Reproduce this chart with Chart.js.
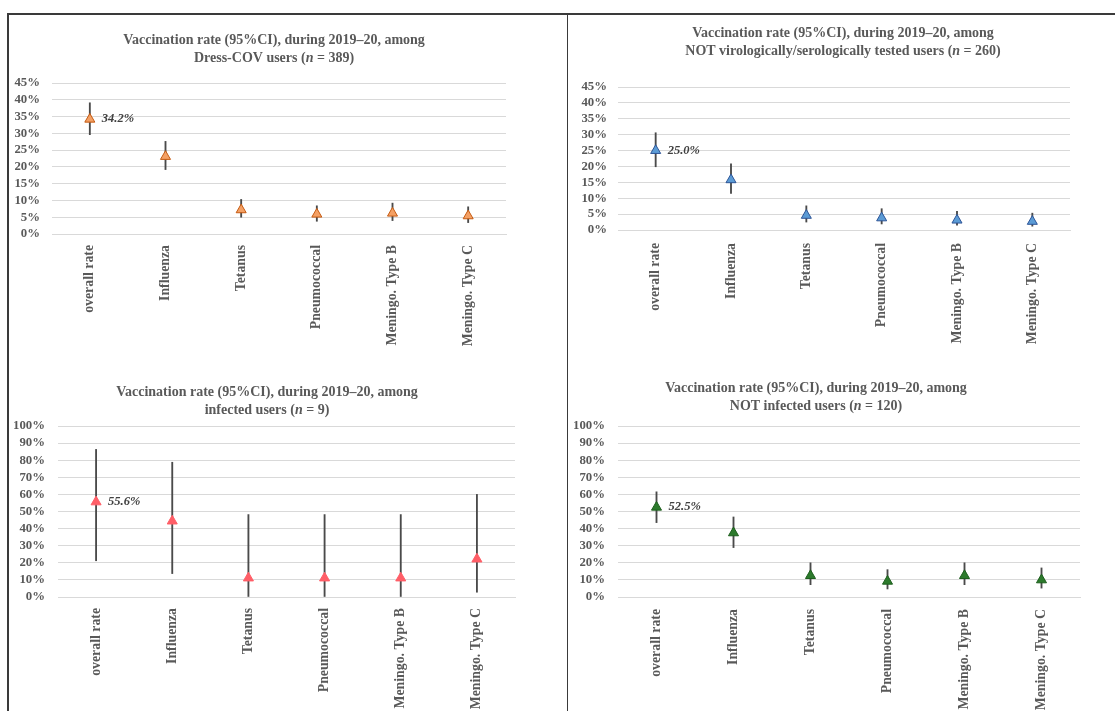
<!DOCTYPE html>
<html>
<head>
<meta charset="utf-8">
<script src="https://cdn.jsdelivr.net/npm/chart.js@4.4.1/dist/chart.umd.min.js"></script>
<style>
  html, body { margin: 0; padding: 0; background: #fff; }
  body { width: 1115px; height: 711px; position: relative; overflow: hidden; }
  .rule { position: absolute; background: #3a3a3a; }
  .panel { position: absolute; }
</style>
</head>
<body>
<div class="rule" style="left:7px;top:13px;width:1108px;height:1.5px"></div>
<div class="rule" style="left:7px;top:13px;width:1.5px;height:698px"></div>
<div class="rule" style="left:566.5px;top:13px;width:1.5px;height:698px"></div>

<div class="panel" style="left:8px;top:14px;width:558px;height:346px"><canvas id="c1"></canvas></div>
<div class="panel" style="left:568px;top:14px;width:547px;height:346px"><canvas id="c2"></canvas></div>
<div class="panel" style="left:8px;top:361px;width:558px;height:350px"><canvas id="c3"></canvas></div>
<div class="panel" style="left:568px;top:361px;width:547px;height:350px"><canvas id="c4"></canvas></div>

<script>
// Vaccine categories shown on every panel
const categories = ['overall rate', 'Influenza', 'Tetanus', 'Pneumococcal', 'Meningo. Type B', 'Meningo. Type C'];

const titleLead = 'Vaccination rate (95%CI), during 2019\u201320, among';

// Dress-COV users
const dressGroup = 'Dress-COV users';
const dressN = 389;
const dressRate = [34.2, 23.1, 7.2, 5.9, 6.2, 5.4];
const dressLow  = [29.6, 19.2, 5.0, 3.8, 4.0, 3.4];
const dressHigh = [39.1, 27.6, 10.3, 8.4, 9.2, 8.1];

// Users not virologically/serologically tested
const untestedGroup = 'NOT virologically/serologically tested users';
const untestedN = 260;
const untestedRate = [25.0, 15.8, 4.6, 3.8, 3.1, 2.7];
const untestedLow  = [19.9, 11.5, 2.5, 1.9, 1.5, 1.2];
const untestedHigh = [30.6, 20.8, 7.6, 6.7, 5.9, 5.3];

// Infected users
const infectedGroup = 'infected users';
const infectedN = 9;
const infectedRate = [55.6, 44.4, 11.1, 11.1, 11.1, 22.2];
const infectedLow  = [21.2, 13.7, 0.3, 0.3, 0.3, 2.8];
const infectedHigh = [86.3, 78.8, 48.2, 48.2, 48.2, 60.0];

// Users not infected
const notInfectedGroup = 'NOT infected users';
const notInfectedN = 120;
const notInfectedRate = [52.5, 37.5, 12.5, 9.2, 12.5, 10.0];
const notInfectedLow  = [43.5, 28.9, 7.2, 4.7, 7.2, 5.2];
const notInfectedHigh = [61.5, 46.8, 20.0, 16.0, 20.0, 17.0];

// Y-axis tick settings
const tickMaxSmall = 45, tickStepSmall = 5;
const tickMaxLarge = 100, tickStepLarge = 10;

const SERIF = '"Liberation Serif", "Times New Roman", serif';
const TEXT = '#595959';

// Two-line panel heading, with the sample size symbol set in italics
const headingPlugin = {
  id: 'heading',
  afterDraw(chart, args, opts) {
    const ctx = chart.ctx;
    ctx.save();
    ctx.fillStyle = TEXT;
    ctx.textBaseline = 'middle';
    ctx.textAlign = 'left';
    opts.lines.forEach((segs, i) => {
      const fonts = segs.map(s => (s.italic ? 'italic ' : '') + 'bold ' + opts.size + 'px ' + SERIF);
      let total = 0;
      const widths = segs.map((s, k) => { ctx.font = fonts[k]; const w = ctx.measureText(s.t).width; total += w; return w; });
      let x = opts.cx - total / 2;
      const y = opts.y0 + i * opts.gap;
      segs.forEach((s, k) => { ctx.font = fonts[k]; ctx.fillText(s.t, x, y); x += widths[k]; });
    });
    ctx.restore();
  }
};

// Value label written beside the first marker
const valueLabelPlugin = {
  id: 'valueLabel',
  afterDatasetsDraw(chart) {
    const meta = chart.getDatasetMeta(0);
    const pt = meta.data[0];
    const v = chart.data.datasets[0].data[0];
    const ctx = chart.ctx;
    ctx.save();
    ctx.font = 'italic bold 12.5px ' + SERIF;
    ctx.fillStyle = '#404040';
    ctx.textAlign = 'left';
    ctx.textBaseline = 'middle';
    ctx.fillText(v.toFixed(1) + '%', pt.x + 12, pt.y);
    ctx.restore();
  }
};

function makePanel(id, cfg) {
  const W = cfg.w, H = cfg.h;
  const ci = cfg.low.map((l, i) => [l, cfg.high[i]]);
  return new Chart(document.getElementById(id), {
    data: {
      labels: categories,
      datasets: [
        {
          type: 'line',
          data: cfg.rate,
          showLine: false,
          pointStyle: 'triangle',
          pointRadius: 5.8,
          pointBackgroundColor: cfg.fill,
          pointBorderColor: cfg.stroke,
          pointBorderWidth: 1,
          order: 0
        },
        {
          type: 'bar',
          data: ci,
          backgroundColor: '#4a4a4a',
          barThickness: 1.2,
          order: 1
        }
      ]
    },
    options: {
      responsive: false,
      animation: false,
      events: [],
      layout: { padding: { top: cfg.top, right: W - cfg.right, left: 0, bottom: 0 } },
      plugins: {
        legend: { display: false },
        tooltip: { enabled: false },
        heading: {
          lines: [
            [{ t: titleLead }],
            [{ t: cfg.group + ' (' }, { t: 'n', italic: true }, { t: ' = ' + cfg.n + ')' }]
          ],
          cx: cfg.cx, y0: cfg.ty, gap: 18, size: 14
        }
      },
      scales: {
        x: {
          offset: true,
          grid: { display: false, drawTicks: false },
          border: { display: true, color: '#d9d9d9', width: 1 },
          ticks: {
            autoSkip: false, minRotation: 90, maxRotation: 90,
            padding: cfg.xpad, color: TEXT,
            font: { family: SERIF, size: 13.8, weight: 'bold' }
          },
          afterFit(s) { s.height = H - cfg.bottom; }
        },
        y: {
          min: 0, max: cfg.max,
          grid: { color: '#d9d9d9', lineWidth: 1, drawTicks: false },
          border: { display: false },
          ticks: {
            autoSkip: false,
            stepSize: cfg.step, padding: cfg.ypad, color: TEXT,
            font: { family: SERIF, size: 12.8, weight: 'bold' },
            callback: v => v + '%'
          },
          afterFit(s) { s.width = cfg.left; }
        }
      }
    },
    plugins: [headingPlugin, valueLabelPlugin]
  });
}

function sizeCanvas(id, w, h) {
  const c = document.getElementById(id);
  c.width = w; c.height = h;
  c.style.width = w + 'px'; c.style.height = h + 'px';
}

sizeCanvas('c1', 558, 346);
sizeCanvas('c2', 547, 346);
sizeCanvas('c3', 558, 350);
sizeCanvas('c4', 547, 350);

makePanel('c1', {
  w: 558, h: 346, group: dressGroup, n: dressN,
  rate: dressRate, low: dressLow, high: dressHigh,
  fill: '#F4A064', stroke: '#C55A11',
  max: tickMaxSmall, step: tickStepSmall,
  left: 44, right: 498, top: 69, bottom: 220,
  xpad: 11, ypad: 12, cx: 266, ty: 26
});

makePanel('c2', {
  w: 547, h: 346, group: untestedGroup, n: untestedN,
  rate: untestedRate, low: untestedLow, high: untestedHigh,
  fill: '#5B9BD5', stroke: '#2E5597',
  max: tickMaxSmall, step: tickStepSmall,
  left: 50, right: 502, top: 73, bottom: 216,
  xpad: 13, ypad: 11, cx: 275, ty: 19
});

makePanel('c3', {
  w: 558, h: 350, group: infectedGroup, n: infectedN,
  rate: infectedRate, low: infectedLow, high: infectedHigh,
  fill: '#FF5E67', stroke: '#FF5E67',
  max: tickMaxLarge, step: tickStepLarge,
  left: 50, right: 507, top: 65, bottom: 236,
  xpad: 11, ypad: 13, cx: 259, ty: 31
});

makePanel('c4', {
  w: 547, h: 350, group: notInfectedGroup, n: notInfectedN,
  rate: notInfectedRate, low: notInfectedLow, high: notInfectedHigh,
  fill: '#2C7A2C', stroke: '#1D5E1D',
  max: tickMaxLarge, step: tickStepLarge,
  left: 50, right: 512, top: 65, bottom: 236,
  xpad: 12, ypad: 13, cx: 248, ty: 27
});
</script>
</body>
</html>
